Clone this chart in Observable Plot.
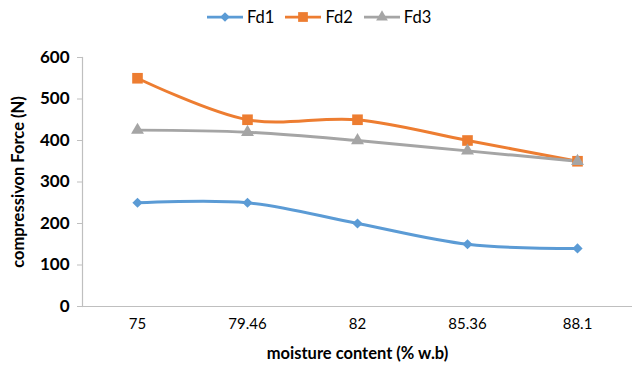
<!DOCTYPE html>
<html>
<head>
<meta charset="utf-8">
<script src="https://cdn.jsdelivr.net/npm/d3@7"></script>
<script src="https://cdn.jsdelivr.net/npm/@observablehq/plot@0.6"></script>
<style>
  html, body { margin: 0; padding: 0; background: #fff; }
  body { width: 633px; height: 368px; overflow: hidden; font-family: Lato, "Open Sans", sans-serif; }
  #legend { height: 34px; display: flex; align-items: center; padding-left: 206px; box-sizing: border-box; font-size: 16.5px; color: #000; }
  .item { display: flex; align-items: center; margin-right: 10px; }
  .item svg { margin-right: 3px; }
</style>
</head>
<body>
<div id="legend"></div>
<div id="chart"></div>
<script>
const moisture = ["75", "79.46", "82", "85.36", "88.1"];
const fd1 = [250, 250, 200, 150, 140];
const fd2 = [550, 450, 450, 400, 350];
const fd3 = [425, 420, 400, 375, 350];
const seriesNames = ["Fd1", "Fd2", "Fd3"];
const seriesColors = ["#5b9bd5", "#ed7d31", "#a5a5a5"];
const seriesSymbols = ["diamond2", "square", "triangle"];
const yTicks = [0, 100, 200, 300, 400, 500, 600];

const seriesValues = [fd1, fd2, fd3];
const data = seriesNames.flatMap((s, i) =>
  moisture.map((m, j) => ({series: s, moisture: m, force: seriesValues[i][j]})));

// legend
const legend = d3.select("#legend");
seriesNames.forEach((s, i) => {
  const it = legend.append("div").attr("class", "item");
  const svg = it.append("svg").attr("width", 38).attr("height", 14);
  svg.append("line").attr("x1", 1).attr("x2", 37).attr("y1", 7).attr("y2", 7)
    .attr("stroke", seriesColors[i]).attr("stroke-width", 2.75);
  const sym = {diamond2: d3.symbolDiamond2, square: d3.symbolSquare, triangle: d3.symbolTriangle}[seriesSymbols[i]];
  const sizes = {diamond2: 60, square: 95, triangle: 60};
  svg.append("path").attr("transform", "translate(19,7)")
    .attr("d", d3.symbol(sym, sizes[seriesSymbols[i]])()).attr("fill", seriesColors[i]);
  it.append("span").text(s);
});

const rBy = {Fd1: 4.6, Fd2: 6.0, Fd3: 4.8};

const chart = Plot.plot({
  width: 633,
  height: 334,
  marginLeft: 82,
  marginRight: 1,
  marginTop: 23,
  marginBottom: 62,
  style: {fontFamily: "Lato, 'Open Sans', sans-serif", color: "#000", background: "#fff"},
  x: {type: "point", domain: moisture, padding: 0.5},
  y: {domain: [0, 600]},
  r: {type: "identity"},
  color: {domain: seriesNames, range: seriesColors},
  symbol: {domain: seriesNames, range: seriesSymbols},
  marks: [
    Plot.axisY({ticks: yTicks, tickSize: 5, tickPadding: 8, stroke: "#bfbfbf", fontSize: 17, fontWeight: "bold",
      label: "compressivon Force (N)", labelAnchor: "center", labelOffset: 70, labelArrow: "none"}),
    Plot.axisX({tickSize: 0, tickPadding: 12, fontSize: 15, label: "moisture content (% w.b)", labelAnchor: "center", labelOffset: 52, labelArrow: "none"}),
    Plot.ruleY([0], {stroke: "#bfbfbf", strokeWidth: 1.2}),
    Plot.frame({anchor: "left", stroke: "#bfbfbf", strokeWidth: 1.2}),
    Plot.line(data, {x: "moisture", y: "force", z: "series", stroke: "series", strokeWidth: 3, curve: "catmull-rom"}),
    Plot.dot(data, {x: "moisture", y: "force", symbol: "series", fill: "series", r: d => rBy[d.series], stroke: "none"})
  ]
});
// bold axis titles
d3.select(chart).selectAll("g[aria-label='y-axis label'] text, g[aria-label='x-axis label'] text")
  .attr("font-weight", "bold").attr("font-size", 16.5);
document.getElementById("chart").appendChild(chart);
</script>
</body>
</html>
